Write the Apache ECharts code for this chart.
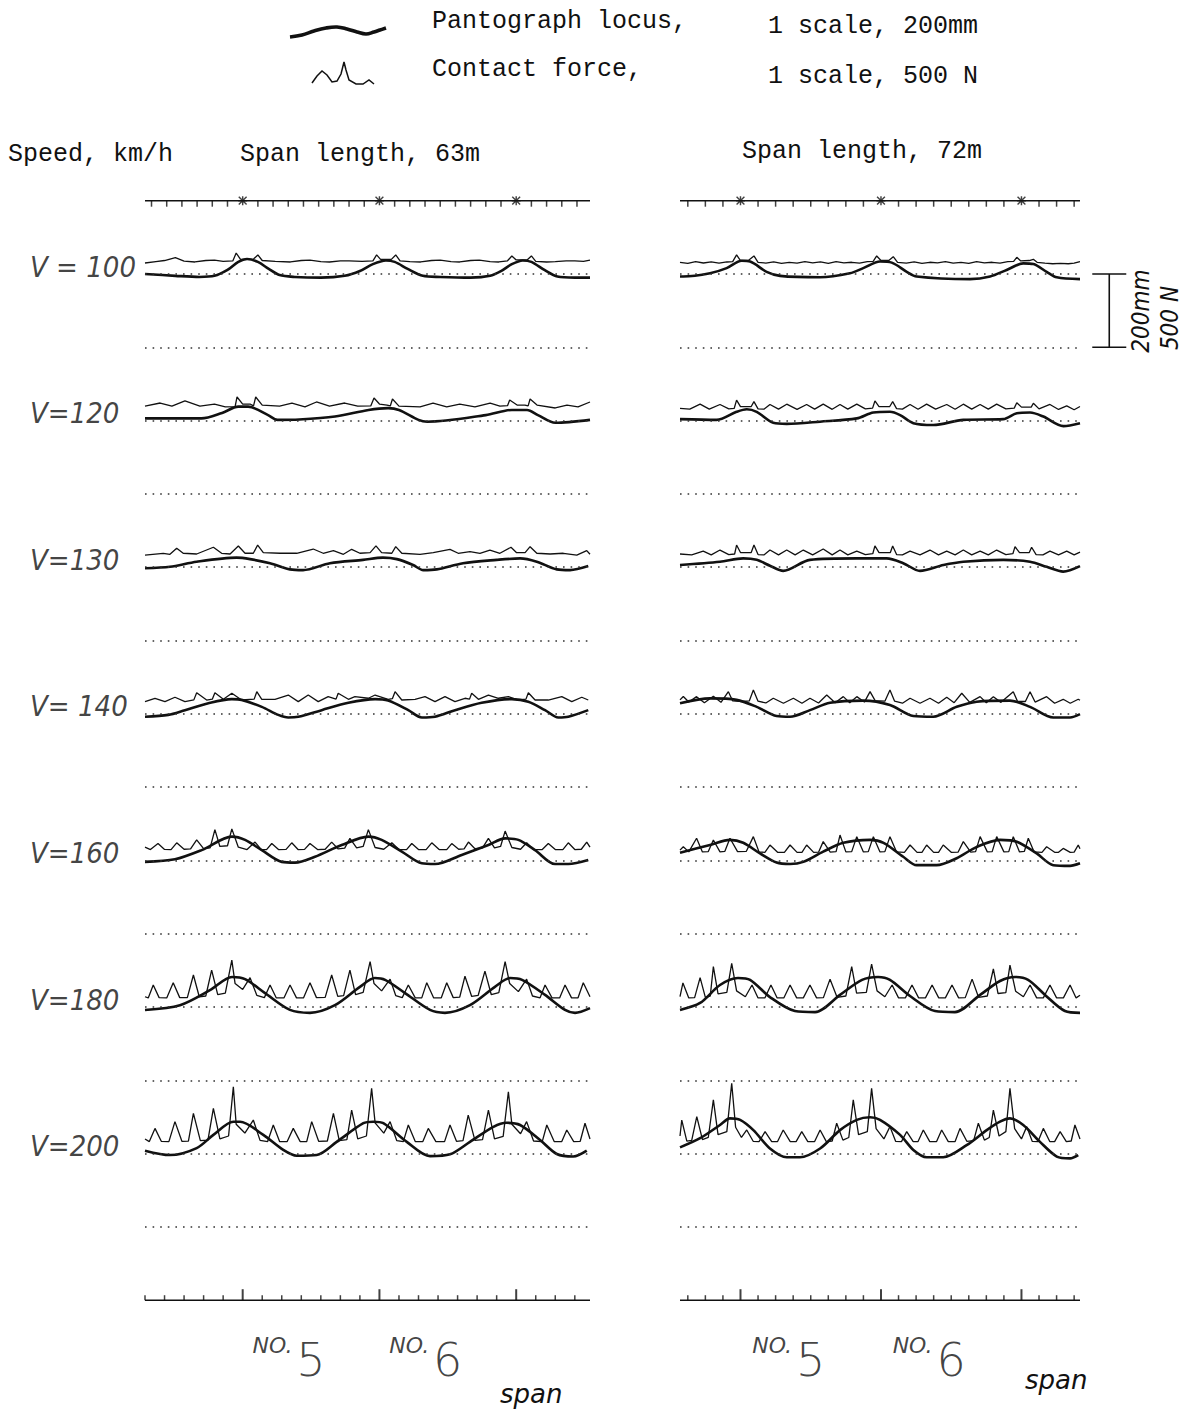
<!DOCTYPE html>
<html>
<head>
<meta charset="utf-8">
<script src="https://cdn.jsdelivr.net/npm/echarts@6/dist/echarts.min.js"></script>
<style>
  html, body { margin: 0; padding: 0; background: #fff; }
  #chart { width: 1195px; height: 1414px; }
</style>
</head>
<body>
<div id="chart"></div>
<script>
// Running speeds, one trace pair per row (slowest at the top)
const speeds = [100, 120, 130, 140, 160, 180, 200];
const speedLabels = ['V = 100', 'V=120', 'V=130', 'V= 140', 'V=160', 'V=180', 'V=200'];

// Support positions along the recorded section, m
const supports63 = [45, 108, 171];
const supports72 = [31, 103, 175];
const spanNames = ['5', '6'];

// Ruler tick positions, m
const topTicks63 = [3, 10, 17, 24, 31, 38, 52, 59, 66, 73, 80, 87, 94, 101, 115, 122, 129, 136, 143, 150, 157, 164, 178, 185, 192, 199];
const topTicks72 = [4, 13, 22, 40, 49, 58, 67, 76, 85, 94, 112, 121, 130, 139, 148, 157, 166, 184, 193, 202];
const bottomTicks63 = [0, 9, 18, 27, 36, 54, 63, 72, 81, 90, 99, 117, 126, 135, 144, 153, 162, 180, 189, 198];
const bottomTicks72 = [4, 13, 22, 40, 49, 58, 67, 76, 85, 94, 112, 121, 130, 139, 148, 157, 166, 184, 193, 202];

// ---- Span length 63 m ----
// Pantograph locus: [position m, height mm above the row's zero line]
const locus63_100 = [[0,0],[14,-5],[25,-8],[32,-5],[38,11],[43,33],[47,41],[52,33],[57,14],[62,-3],[69,-8],[81,-10],[92,-5],[99,8],[105,27],[111,37],[115,33],[121,14],[128,-5],[136,-8],[150,-10],[159,-5],[164,8],[169,27],[174,37],[178,33],[184,11],[190,-7],[198,-10],[205,-10]];
const locus63_120 = [[0,6],[26,6],[35.5,21],[43,38],[47.5,38],[56.7,15],[61,2],[71,3],[87.5,11],[103,29],[112,34],[117,29],[126,2],[130,-3],[157,15],[169,29],[176,29],[181,15],[189,-6],[205,2]];
const locus63_130 = [[0,-3],[11.5,1],[23.8,15],[42.2,26],[48.4,22],[57.6,11],[66.8,-6],[72.8,-8],[85.2,11],[100.4,20],[109.6,26],[116,22],[123.5,6],[128.2,-8],[134.4,-6],[146.5,11],[162,20],[172.8,24],[180.5,15],[189.7,-6],[195.8,-8],[204.2,3]];
const locus63_140 = [[0,-8],[10.7,-3],[18.4,10],[29.2,29],[40,40],[44.5,38],[53.8,19],[61.4,-3],[66,-10],[70.6,-8],[81.4,10],[93.7,30],[106,40],[112,36],[121.3,10],[127.5,-10],[133.6,-8],[142.8,10],[155.1,30],[169,40],[176.6,33],[184.3,10],[190.4,-10],[195,-8],[204.2,10]];
const locus63_160 = [[0,-4],[13.8,3],[26.1,28],[40,65],[46.1,56],[53.8,28],[63,-4],[69.1,-6],[78.3,10],[90.6,42],[102.9,65],[109,56],[118.3,24],[127.5,-8],[133.6,-10],[145.9,15],[158.2,42],[165.9,60],[172,56],[179.7,28],[188.9,-10],[195,-10],[204.2,1]];
const locus63_180 = [[0,-8],[16.1,5],[29.9,46],[40.1,82],[46.1,76],[55.3,38],[66.8,-8],[76,-16],[87.5,5],[99,55],[105.9,79],[110.6,74],[119.8,38],[131.3,-8],[138.2,-16],[149.7,5],[161.2,55],[168.2,79],[173.7,74],[184.3,33],[193.5,-8],[198.1,-16],[205,-3]];
const locus63_200 = [[0,8],[11.5,-4],[23.8,15],[31.5,51],[40.7,87],[43.8,87],[54.5,51],[63.7,10],[69.9,-6],[79.1,-4],[88.3,32],[100.6,83],[105.2,87],[109.8,83],[120.6,32],[131.3,-7],[140.5,-2],[149.7,32],[160.5,73],[166.6,84],[172.8,78],[182,37],[189.7,-1],[197.3,-8],[203.5,8]];

// Contact force: [position m, force N]
const force63_100 = [[0,75],[5,85],[9,92],[14,112],[18,88],[23,82],[28,92],[32,95],[36,86],[40.5,90],[42,143],[44,100],[50,102],[52,130],[54,92],[60,86],[67,82],[72,92],[76,95],[81,84],[85,82],[90,90],[94,89],[100,86],[105,90],[106.7,130],[108.5,100],[113.5,100],[115.5,130],[117.5,90],[122,84],[127,82],[132,92],[136,95],[141,85],[145,82],[150,92],[154,95],[159,85],[163,82],[167,90],[169,123],[171,96],[176,96],[178,123],[180,86],[185,82],[189,84],[194,90],[198,89],[202,86],[205,95]];
const force63_120 = [[0,99],[7,120],[12.4,99],[18.4,134],[25.3,99],[32,113],[37,93],[41.5,96],[42.4,161],[45,113],[48.4,113],[50,100],[51,161],[54,106],[62,99],[67.7,120],[73.7,93],[79,127],[85,99],[92,120],[98,99],[104,100],[105.5,154],[108,113],[111.5,106],[113,100],[114,147],[117,99],[126.7,93],[132.7,120],[139,93],[145,113],[152,93],[159,120],[163.5,99],[167,102],[168,140],[171.4,106],[175,106],[176.5,100],[177.4,147],[180.6,106],[189,86],[194.4,106],[199.5,93],[205,127]];
const force63_130 = [[0,83],[8.4,95],[11.5,88],[14.6,129],[17.6,95],[23.8,90],[31.5,136],[35.3,95],[39.2,90],[43,145],[46.1,95],[49.9,95],[51.9,151],[54.5,99],[62.2,95],[69.9,95],[77.5,124],[82.1,95],[86.8,113],[91.4,88],[95.2,122],[99,95],[103.7,99],[106.4,145],[109,99],[113.7,95],[115.5,140],[118.3,95],[126.7,88],[132.8,99],[140.5,122],[144.3,95],[149.7,106],[154.3,95],[158.9,117],[163.5,95],[168.6,136],[171.2,99],[175.1,99],[177.4,140],[180.5,95],[186.6,90],[192.7,95],[198.9,83],[203.5,113],[205,88]];
const force63_140 = [[0,83],[4.6,106],[9.2,83],[13.8,113],[18.4,83],[22.5,95],[23.8,144],[28.4,94],[31,100],[32.2,144],[36.1,99],[40,140],[44.5,94],[50.3,100],[51.5,151],[53.8,99],[59.9,99],[66,128],[70.6,83],[75.2,128],[79.8,83],[84.4,117],[88,100],[89,140],[93.7,99],[96.7,117],[102.9,106],[106,128],[112,99],[114,104],[115.2,151],[118.3,94],[124.4,99],[129,117],[133.6,83],[138.2,117],[142.8,83],[147.4,106],[149.5,100],[150.5,140],[153.6,99],[158.2,128],[162.8,106],[167.4,117],[172,94],[175.5,100],[176.6,144],[179.7,94],[185.8,94],[192,117],[196.6,83],[201.2,113],[204.2,94]];
const force63_160 = [[0,90],[2.5,74],[6,115],[9,75],[12,74],[14.6,120],[18,76],[21,78],[23.8,140],[27,80],[30,85],[32.2,210],[34.5,95],[38,100],[40,215],[43,90],[47,74],[50.7,125],[53.5,75],[56,74],[58.4,115],[61.5,74],[65,75],[67.6,120],[70.5,74],[73.5,75],[76,115],[79.5,74],[83,76],[86,125],[89,78],[92,84],[94.4,150],[97.5,85],[100.5,95],[102.9,210],[106,88],[110,76],[113.7,120],[117,74],[120.5,74],[122.9,115],[126,74],[129.5,74],[132.1,120],[135.5,74],[139,74],[141.3,115],[144.5,76],[147,78],[149,125],[152,80],[155.5,85],[158.2,150],[161,86],[163.8,95],[165.9,200],[169,88],[173,76],[175.8,120],[179,74],[183,74],[185.8,115],[189,74],[192.5,74],[195,120],[198,74],[201,76],[203.5,125],[205,90]];
const force63_180 = [[0,70],[1.5,62],[3.8,150],[6.5,64],[10,62],[13,166],[16,64],[19.5,64],[22.3,218],[25,70],[28,75],[30.7,252],[33.5,85],[37,95],[40,320],[41.5,160],[45,120],[48.4,200],[51.5,80],[55,64],[57.6,150],[60.5,62],[64,62],[66.8,150],[69.8,62],[73,62],[76,166],[79,64],[83,66],[86,218],[88.8,72],[91.5,78],[94.4,252],[97,85],[100.5,100],[103.7,309],[105.5,160],[109,110],[112.9,190],[115.5,78],[118.5,64],[121.3,150],[124.5,62],[127.5,62],[129.8,166],[133,62],[136.5,63],[139,166],[142,64],[145,68],[147.4,210],[150.5,72],[153.5,80],[156.6,245],[159.5,85],[163,98],[165.9,309],[168,160],[172,105],[175.8,190],[178.5,75],[182,63],[184.3,150],[187.5,62],[191,62],[193.5,150],[196.5,62],[199.5,63],[201.9,166],[205,70]];
const force63_200 = [[0,100],[2,82],[4.6,172],[7.5,84],[11,82],[13.8,218],[17,84],[20,85],[22.3,275],[25.5,88],[29,92],[31.5,309],[34.5,100],[38.5,120],[40.7,456],[42,200],[46,140],[49.9,229],[53,90],[56.5,82],[59.1,195],[62,82],[65.5,82],[68.3,172],[71.5,82],[74.5,82],[76.8,218],[80,84],[84,86],[86.8,275],[89.5,88],[93,95],[95.2,297],[98,100],[102,120],[104.4,445],[106,210],[110,140],[112.9,218],[116,88],[119,82],[121.3,195],[124.5,82],[128,82],[130.5,172],[134,82],[138,82],[140.5,195],[143.5,84],[146.5,88],[148.9,263],[152,90],[155.5,95],[158.2,297],[161,100],[165,118],[167.4,422],[169,200],[173,135],[175.8,218],[179,86],[183,82],[185.1,195],[188.5,82],[192,82],[194.3,161],[197.5,82],[200.5,84],[202.7,207],[205,100]];

// ---- Span length 72 m ----
const locus72_100 = [[0,-7],[1.7,-7],[15.4,2],[23.9,16],[31.6,36],[35.9,34],[44.4,6],[51.3,-5],[71.8,-9],[87.1,2],[93.9,16],[102.5,34],[108.5,31],[116.2,6],[121.3,-7],[148.6,-14],[158.9,-7],[167.4,11],[175.9,29],[181.1,27],[187.9,6],[193.1,-9],[205,-14]];
const locus72_120 = [[0,4],[18.8,2],[29,24],[34.2,31],[39.3,24],[47.8,-6],[54.7,-9],[71.8,-3],[90.6,6],[99.1,22],[107.6,24],[112.8,15],[119.6,-7],[129.8,-12],[145.2,2],[165.7,4],[172.6,20],[179.4,22],[186.2,11],[196.5,-15],[205,-7]];
const locus72_130 = [[0,6],[20.5,15],[32.4,24],[39.3,20],[46.1,4],[52.9,-10],[66.6,20],[90.6,24],[105.9,24],[114.4,11],[123,-10],[135,6],[145.2,15],[165.7,20],[179.4,15],[187.9,1],[196.4,-12],[205,3]];
const locus72_140 = [[0,29],[15.4,42],[29,38],[39.3,19],[49.5,-6],[56.4,-8],[66.6,10],[76.9,30],[94,36],[107.6,24],[119.6,-6],[129.8,-8],[141.8,19],[152.1,33],[169.1,36],[179.4,19],[191.3,-10],[199.9,-10],[205,-1]];
const locus72_160 = [[0,21],[15.4,42],[25.6,56],[32.4,48],[41,19],[49.5,-6],[56.4,-10],[63.2,-4],[73.4,24],[83.7,48],[97.4,56],[104.3,48],[114.4,10],[121.3,-13],[131.5,-13],[141.8,6],[152.1,37],[164,56],[172.6,51],[182.8,19],[191.3,-13],[199.9,-15],[205,-8]];
const locus72_180 = [[0,-8],[10.3,11],[20.5,60],[29.7,79],[35.9,74],[46.1,27],[58.9,-11],[69.2,-14],[82,33],[93.3,74],[101.5,82],[107.6,74],[117.9,30],[130.7,-11],[140.9,-14],[153.8,33],[164,71],[171.7,82],[178.4,74],[187.1,33],[197.3,-11],[205,-16]];
const locus72_200 = [[0,17],[10.3,42],[20.5,78],[25.6,96],[30.8,92],[37.6,64],[46.1,14],[54.7,-10],[61.5,-10],[71.8,14],[82,64],[90.6,92],[97.4,99],[102.5,92],[112.8,51],[119.6,10],[126.4,-10],[134.9,-10],[146.9,23],[157.2,64],[164,87],[169.1,96],[175.9,78],[184.5,32],[193.1,-8],[199.9,-13],[204.1,-4]];

const force72_100 = [[0,80],[4,72],[8,84],[12,75],[16,82],[20,74],[24,82],[27,84],[29,130],[31,92],[35,92],[37.9,123],[40,80],[44,74],[48,82],[52,72],[56,80],[60,74],[64,84],[68,76],[72,82],[76,72],[80,84],[84,76],[88,80],[92,74],[96,84],[99,86],[100.8,123],[103,92],[107,92],[109.3,118],[111.5,80],[116,74],[120,82],[124,72],[128,80],[132,76],[136,84],[140,74],[144,80],[148,72],[152,84],[156,76],[160,80],[164,74],[168,84],[171,86],[172.6,114],[174.5,90],[179,92],[181.1,100],[183,80],[187,74],[191,70],[195,72],[199,70],[202,74],[205,84]];
const force72_120 = [[0,84],[5,78],[10.3,112],[15,78],[20.5,110],[25,80],[27.8,84],[29,140],[31,95],[36.5,96],[37.9,129],[40,80],[43,78],[46.1,110],[50.5,78],[54.7,112],[60,77],[64.9,110],[69,78],[73.4,112],[78,77],[82,110],[86,78],[90.6,112],[95,80],[98.7,85],[99.9,134],[102,95],[107.5,96],[109,129],[111,82],[114,78],[117.9,110],[122,77],[126.4,112],[131,78],[136.7,110],[141,77],[145.2,112],[149.5,78],[153.8,110],[158,78],[162.3,112],[167,80],[171.3,85],[172.6,122],[175,92],[180,92],[181.1,118],[184,80],[189.6,110],[194,76],[198.2,100],[202,74],[205,96]];
const force72_130 = [[0,90],[6,84],[11.9,110],[16,84],[20.5,117],[25,86],[28,90],[29,151],[31,100],[36.5,100],[37.9,151],[40,86],[43,84],[46.1,117],[50.5,84],[54.7,117],[59,84],[63.2,117],[68,84],[73.4,124],[78,84],[82,117],[86,84],[90.6,110],[95,86],[98.8,92],[99.9,145],[102,100],[107.8,100],[109,145],[111,86],[114,84],[117.9,110],[123,84],[128.1,117],[132.5,84],[136.7,110],[141,84],[145.2,117],[149.5,84],[153.8,110],[158,84],[162.3,117],[167,86],[170.6,92],[171.7,140],[174,100],[179,100],[180.2,136],[182.5,86],[186,84],[189.6,110],[194,84],[198.2,110],[202,84],[205,103]];
const force72_140 = [[0,95],[1.7,118],[4.5,80],[8.5,117],[12.5,76],[17.1,120],[21,78],[24.8,151],[27,88],[32,84],[35.5,88],[37.6,162],[40,86],[44,74],[47.8,106],[53,72],[58.1,106],[62.5,72],[66.6,106],[71,74],[75.2,128],[79.5,76],[83.7,117],[87,76],[90.6,117],[94.5,80],[97.4,151],[100,90],[105,86],[107.6,162],[110,86],[114,72],[117.9,106],[123,72],[128.1,106],[132.5,72],[136.7,113],[140.5,76],[144.4,140],[148.5,78],[153.8,117],[157,76],[160.6,117],[164.5,78],[170.8,151],[173,84],[177,84],[179.4,151],[182,80],[187.9,117],[192,72],[196.4,99],[200,72],[204.1,99],[205,92]];
const force72_160 = [[0,70],[1.7,93],[4.5,58],[8.5,151],[11.5,58],[14.5,60],[17.1,139],[20.5,58],[23,62],[25.6,151],[29.5,60],[34,62],[37.6,162],[40.5,58],[43.5,55],[46.1,105],[50,55],[53.5,55],[56.4,105],[60,55],[62.5,55],[64.9,105],[68.5,55],[71,56],[73.4,128],[77,57],[80,60],[82,173],[85,58],[88,60],[90.6,162],[94,58],[96.5,60],[99.1,162],[102.5,58],[105,60],[107.6,162],[111,58],[115,55],[117.9,105],[121.5,55],[124,55],[126.4,105],[130,55],[132.5,55],[134.9,105],[139,55],[142.5,56],[145.2,128],[149,57],[151.5,60],[153.8,162],[157.5,58],[160,60],[162.3,162],[166,58],[168.5,60],[170.8,162],[174,58],[176.5,62],[178.5,151],[181.5,58],[185.5,55],[187.9,93],[192,55],[194,55],[196.4,82],[200,55],[202,56],[204.1,105],[205,80]];
const force72_180 = [[0,70],[1.5,164],[4.5,62],[7.5,64],[10.3,200],[13,66],[15.5,75],[17.1,275],[19.5,90],[24,100],[26.5,298],[29,110],[33.5,70],[36.9,150],[40,62],[43.5,62],[46.6,150],[49.8,62],[53.2,62],[56.4,150],[59.8,62],[63.2,62],[66.6,150],[70,62],[73.5,64],[76.9,190],[80.5,66],[85,75],[88,275],[90.5,95],[95.5,100],[98.2,293],[101,110],[105,70],[108.7,150],[112,62],[115.5,62],[118.9,150],[122.3,62],[125.8,62],[129.2,150],[132.6,62],[136,62],[139.4,150],[142.8,62],[146.2,64],[149.7,190],[153,66],[157.5,75],[160.6,260],[163,92],[167,98],[169.1,286],[172,108],[176,70],[179.4,150],[182.8,62],[186.2,62],[189.6,150],[193,62],[196.5,62],[199.9,150],[203,62],[205,80]];
const force72_200 = [[0,120],[0.9,229],[3.5,85],[6,90],[8.6,252],[11.5,95],[14.5,110],[17.1,366],[19.5,130],[24,150],[26.5,480],[28.5,180],[31.5,110],[34.2,161],[37.5,84],[40.5,82],[43.6,150],[47,82],[50,82],[52.9,161],[56.5,82],[59.5,82],[62.4,150],[65.5,82],[69,82],[71.8,161],[75,82],[78,86],[80.3,207],[83.5,92],[86.5,110],[88.8,366],[91.5,130],[96,150],[98.2,445],[100.5,170],[104.5,100],[107.6,184],[110.5,84],[113.5,82],[116.2,150],[119.5,82],[122,82],[124.7,161],[128,82],[131.5,82],[134.1,161],[137.5,82],[141,82],[143.5,172],[147,84],[150.5,88],[152.9,207],[156,92],[158.5,110],[160.6,297],[163.5,120],[167,150],[169.1,445],[171.5,170],[175,100],[177.7,184],[180.5,84],[183.5,82],[186.2,172],[189.5,82],[192,82],[194.8,150],[198,82],[200.5,86],[202.4,195],[205,100]];

// ---------------------------------------------------------------------
const loci63 = [locus63_100, locus63_120, locus63_130, locus63_140, locus63_160, locus63_180, locus63_200];
const forces63 = [force63_100, force63_120, force63_130, force63_140, force63_160, force63_180, force63_200];
const loci72 = [locus72_100, locus72_120, locus72_130, locus72_140, locus72_160, locus72_180, locus72_200];
const forces72 = [force72_100, force72_120, force72_130, force72_140, force72_160, force72_180, force72_200];

const SCALE_MM = 200;            // one scale division = 200 mm = 500 N
const MM_PER_N = 200 / 500;
const ROW_STEP = 2 * SCALE_MM;   // rows are two divisions apart
const X_END = 205;               // recorded length, m
const TOP_RULER = SCALE_MM;      // support ruler one division above the first row
const BOTTOM_RULER = -ROW_STEP * speeds.length;
const SCALE_BAR_X = 220;         // scale bar just right of the 72 m panel, m
const INK = '#111';

const MONO = '"Liberation Mono", "DejaVu Sans Mono", monospace';
const SANS_C = '"DejaVu Sans Condensed", "Liberation Sans Narrow", "Liberation Sans", sans-serif';
const SANS_L = '"DejaVu Sans", "Liberation Sans", sans-serif';

const STAR = 'path://M4.2,0h1.6v10h-1.6z M0,4.2h10v1.6h-10z M1.2,0.1L9.9,8.8L8.8,9.9L0.1,1.2z M8.8,0.1L9.9,1.2L1.2,9.9L0.1,8.8z';

function panelSeries(idx, loci, forces, supports, topTicks, bottomTicks) {
  const ax = { xAxisIndex: idx, yAxisIndex: idx };
  const out = [];
  // zero line of each row and the one-division line below it
  const levels = [];
  loci.forEach((_, r) => { levels.push(-ROW_STEP * r, -ROW_STEP * r - SCALE_MM); });

  out.push({
    type: 'line', name: 'support ruler', ...ax, silent: true, symbol: 'none',
    data: [[0, TOP_RULER], [X_END, TOP_RULER]],
    lineStyle: { color: INK, width: 1.4 },
    markLine: {
      silent: true, symbol: ['none', 'none'], label: { show: false },
      lineStyle: { color: '#333', width: 1.6, type: [1.6, 6] },
      data: levels.map(v => ({ yAxis: v }))
    }
  });
  out.push({
    type: 'scatter', ...ax, silent: true, symbol: 'rect', symbolSize: [1.5, 6], symbolOffset: [0, 3],
    itemStyle: { color: INK }, data: topTicks.map(x => [x, TOP_RULER])
  });
  out.push({
    type: 'scatter', ...ax, silent: true, symbol: STAR, symbolSize: 9,
    itemStyle: { color: INK }, data: supports.map(x => [x, TOP_RULER])
  });
  out.push({
    type: 'line', name: 'distance ruler', ...ax, silent: true, symbol: 'none',
    data: [[0, BOTTOM_RULER], [X_END, BOTTOM_RULER]],
    lineStyle: { color: INK, width: 1.6 }
  });
  out.push({
    type: 'scatter', ...ax, silent: true, symbol: 'rect', symbolSize: [1.5, 5], symbolOffset: [0, -2.5],
    itemStyle: { color: INK }, data: bottomTicks.map(x => [x, BOTTOM_RULER])
  });
  out.push({
    type: 'scatter', ...ax, silent: true, symbol: 'rect', symbolSize: [2, 11], symbolOffset: [0, -5.5],
    itemStyle: { color: INK }, data: supports.map(x => [x, BOTTOM_RULER])
  });

  loci.forEach((pts, r) => {
    out.push({
      type: 'line', name: 'Pantograph locus', ...ax, symbol: 'none', smooth: 0.3,
      lineStyle: { color: INK, width: 2.6 },
      data: pts.map(([x, mm]) => [x, -ROW_STEP * r + mm])
    });
  });
  forces.forEach((pts, r) => {
    out.push({
      type: 'line', name: 'Contact force', ...ax, symbol: 'none',
      lineStyle: { color: INK, width: 1.3 },
      data: pts.map(([x, n]) => [x, -ROW_STEP * r + n * MM_PER_N])
    });
  });

  // span numbers under the distance ruler
  out.push({
    type: 'scatter', ...ax, silent: true, symbolSize: 0, clip: false,
    data: spanNames.map((n, i) => ({ name: n, value: [(supports[i] + supports[i + 1]) / 2, BOTTOM_RULER - 160] })),
    label: {
      show: true, position: 'inside', offset: [-22, 0],
      formatter: p => '{n|NO.}{d|' + p.name + '}',
      rich: {
        n: { fontFamily: SANS_L, fontStyle: 'italic', fontSize: 22, color: INK, verticalAlign: 'top', lineHeight: 48, padding: [0, 4, 0, 0] },
        d: { fontFamily: SANS_L, fontWeight: 200, fontSize: 46, color: INK, verticalAlign: 'bottom', lineHeight: 48 }
      }
    }
  });
  return out;
}

const series = [
  ...panelSeries(0, loci63, forces63, supports63, topTicks63, bottomTicks63),
  ...panelSeries(1, loci72, forces72, supports72, topTicks72, bottomTicks72),
  // speed labels at the left of each row
  {
    type: 'scatter', xAxisIndex: 0, yAxisIndex: 0, silent: true, symbolSize: 0, clip: false,
    data: speedLabels.map((t, r) => ({ name: t, value: [-53, -ROW_STEP * r + 20] })),
    label: {
      show: true, position: 'right', distance: 0, formatter: '{b}',
      fontFamily: SANS_C, fontStyle: 'italic', fontSize: 29, color: INK
    }
  },
  // scale bar: one division (200 mm / 500 N)
  {
    type: 'custom', xAxisIndex: 1, yAxisIndex: 1, silent: true, clip: false,
    data: [[SCALE_BAR_X, 0, -SCALE_MM]],
    renderItem: (params, api) => {
      const a = api.coord([api.value(0), api.value(1)]);
      const b = api.coord([api.value(0), api.value(2)]);
      const st = { stroke: INK, lineWidth: 1.6, fill: null };
      return {
        type: 'group',
        children: [
          { type: 'line', shape: { x1: a[0], y1: a[1], x2: b[0], y2: b[1] }, style: st },
          { type: 'line', shape: { x1: a[0] - 17, y1: a[1], x2: a[0] + 17, y2: a[1] }, style: st },
          { type: 'line', shape: { x1: b[0] - 17, y1: b[1], x2: b[0] + 17, y2: b[1] }, style: st }
        ]
      };
    }
  }
];

const chart = echarts.init(document.getElementById('chart'), null, { renderer: 'svg' });

const txt = (text, left, top) => ({
  type: 'text', left, top, silent: true,
  style: { text, fill: INK, font: '25px ' + MONO }
});

chart.setOption({
  animation: false,
  backgroundColor: '#fff',
  grid: [
    { left: 145, width: 445, top: 127.4, height: 1246.1 },
    { left: 680, width: 400, top: 127.4, height: 1246.1 }
  ],
  xAxis: [
    { type: 'value', gridIndex: 0, min: 0, max: X_END, show: false },
    { type: 'value', gridIndex: 1, min: 0, max: X_END, show: false }
  ],
  yAxis: [
    { type: 'value', gridIndex: 0, min: -3000, max: 400, show: false },
    { type: 'value', gridIndex: 1, min: -3000, max: 400, show: false }
  ],
  graphic: [
    // legend keys
    { type: 'polyline', silent: true, shape: { points: [[290, 37], [302, 35], [314, 31], [326, 28], [337, 27], [347, 29], [357, 32], [366, 34], [374, 32], [380, 30], [386, 28]], smooth: 0.4 },
      style: { stroke: INK, lineWidth: 3.6, fill: null } },
    { type: 'polyline', silent: true, shape: { points: [[312, 83], [317, 76], [322, 71], [327, 75], [332, 82], [337, 81], [341, 74], [344, 62], [346, 70], [349, 80], [356, 84], [363, 84], [369, 80], [374, 84]] },
      style: { stroke: INK, lineWidth: 1.5, fill: null } },
    txt('Pantograph locus,', 432, 9),
    txt('1 scale, 200mm', 768, 14),
    txt('Contact force,', 432, 57),
    txt('1 scale, 500 N', 768, 64),
    txt('Speed, km/h', 8, 142),
    txt('Span length, 63m', 240, 142),
    txt('Span length, 72m', 742, 139),
    // scale bar captions
    { type: 'text', x: 1141, y: 311, rotation: Math.PI / 2, silent: true,
      style: { text: '200mm', fill: INK, fontFamily: SANS_C, fontStyle: 'italic', fontSize: 24, align: 'center', verticalAlign: 'middle' } },
    { type: 'text', x: 1170, y: 318, rotation: Math.PI / 2, silent: true,
      style: { text: '500 N', fill: INK, fontFamily: SANS_C, fontStyle: 'italic', fontSize: 24, align: 'center', verticalAlign: 'middle' } },
    { type: 'text', left: 500, top: 1381, silent: true,
      style: { text: 'span', fill: INK, fontFamily: SANS_L, fontStyle: 'italic', fontSize: 26 } },
    { type: 'text', left: 1025, top: 1367, silent: true,
      style: { text: 'span', fill: INK, fontFamily: SANS_L, fontStyle: 'italic', fontSize: 26 } }
  ],
  series
});
</script>
</body>
</html>
